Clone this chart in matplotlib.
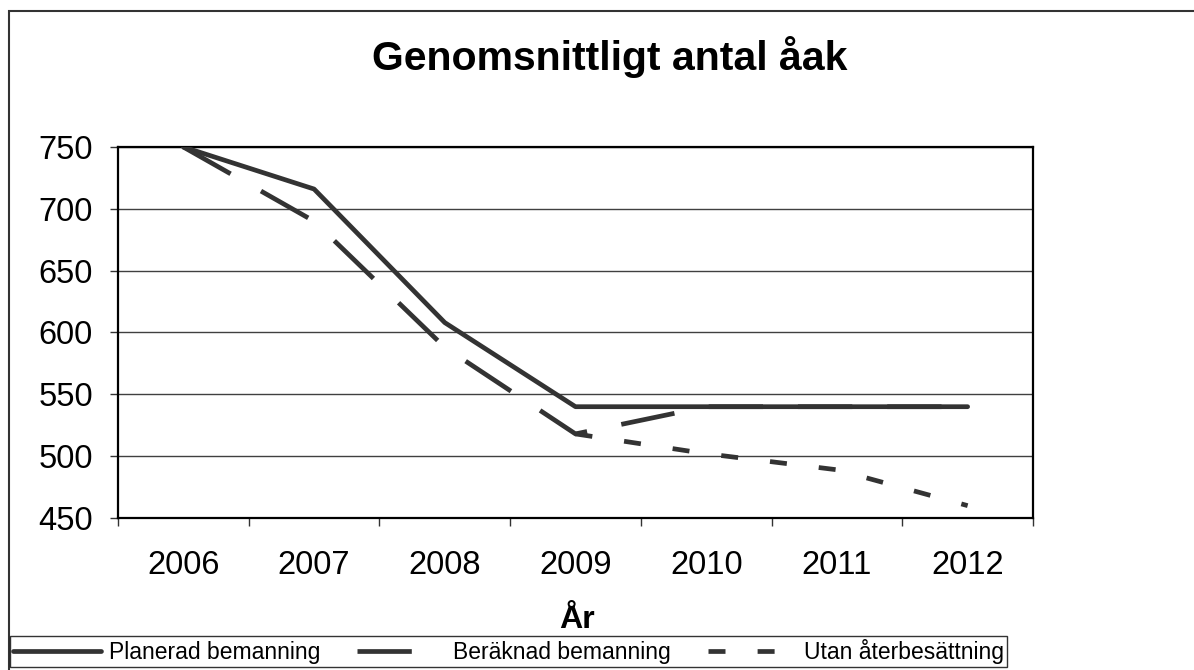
import matplotlib
matplotlib.use("Agg")
import matplotlib.pyplot as plt
import numpy as np
from matplotlib.patches import Rectangle

plt.rcParams['font.family'] = ['Liberation Sans', 'DejaVu Sans']

years = ["2006", "2007", "2008", "2009", "2010", "2011", "2012"]
planerad = [750, 716, 608, 540, 540, 540, 540]
beraknad = [750, 690, 588, 518, 540, 540, 540]
utan = [np.nan, np.nan, np.nan, 518, 502, 489, 460]
yticks = [450, 500, 550, 600, 650, 700, 750]

title = "Genomsnittligt antal åak"
xlabel = "År"
labels = ["Planerad bemanning", "Beräknad bemanning", "Utan återbesättning"]

W, H = 1194, 670
fig = plt.figure(figsize=(W / 100, H / 100), dpi=100)

# outer chart border (extends beyond the image on right and bottom)
fig.patches.append(Rectangle((9 / W, -0.1), 1.2, 1 - 11 / H + 0.1, transform=fig.transFigure,
                             fill=False, edgecolor='#333333', linewidth=1.5))

ax = fig.add_axes([118 / W, 1 - 518 / H, (1033 - 118) / W, (518 - 147) / H])
x = np.arange(len(years))
col = '#333333'
lw = 3.4
ax.plot(x, planerad, color=col, lw=lw, solid_capstyle='round', label=labels[0], zorder=3)
ax.plot(x, beraknad, color=col, lw=lw, dashes=(11.5, 7.4), label=labels[1], zorder=4)
ax.plot(x, utan, color=col, lw=lw, dashes=(3.6, 6.8), label=labels[2], zorder=5)

ax.set_xlim(-0.5, len(years) - 0.5)
ax.set_ylim(450, 750)
ax.set_yticks(yticks)
ax.set_yticklabels([str(v) for v in yticks], fontsize=23.5)
ax.set_xticks(x)
ax.set_xticklabels(years, fontsize=23.5)
ax.set_xticks(np.arange(-0.5, len(years)), minor=True)
ax.tick_params(axis='x', which='major', length=0, pad=23)
ax.tick_params(axis='x', which='minor', length=6, width=1, direction='out', color='#333333')
ax.tick_params(axis='y', which='major', length=6, width=1, direction='out', pad=12, color='#333333')
ax.grid(axis='y', color='#404040', linewidth=1)
for s in ax.spines.values():
    s.set_color('black')
    s.set_linewidth(1.6)

fig.text(610 / W, 1 - 70 / H, title, fontsize=29.5, fontweight='bold', ha='center', va='baseline')
fig.text(577 / W, 1 - 628 / H, xlabel, fontsize=23, fontweight='bold', ha='center', va='baseline')

leg = fig.legend(loc='upper left', bbox_to_anchor=(10 / W, 1 - 637 / H, 997 / W, 0.001), mode='expand',
                 ncol=3, fontsize=16.5, frameon=True, fancybox=False, edgecolor='black',
                 handlelength=3.85, handletextpad=0.35, borderpad=0.12, borderaxespad=0,
                 columnspacing=0.8)
leg.get_frame().set_linewidth(1.0)

fig.savefig("out.png", dpi=100)
